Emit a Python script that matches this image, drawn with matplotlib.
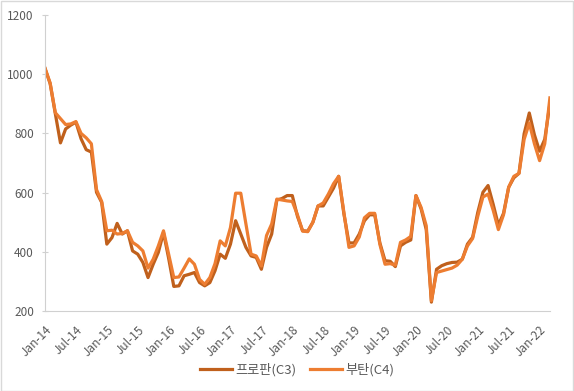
import matplotlib.pyplot as plt
from matplotlib.patches import Rectangle
import pandas as pd

plt.rcParams['font.family'] = ['Noto Sans CJK KR', 'DejaVu Sans']

# 월별 데이터 (2014년 1월 ~ 2022년 3월)
months = pd.date_range('2014-01-01', '2022-03-01', freq='MS').strftime('%b-%y').tolist()

propane = [1020, 968, 867, 768, 815, 828, 838, 782, 745, 737, 601, 567,
           426, 448, 496, 460, 471, 403, 392, 364, 313, 358, 398, 465,
           378, 283, 285, 319, 324, 330, 296, 285, 296, 336, 392, 378,
           426, 505, 460, 415, 386, 381, 341, 415, 460, 575, 580, 590,
           590, 520, 471, 470, 500, 555, 555, 585, 615, 655, 530, 430,
           430, 460, 505, 525, 525, 430, 370, 368, 350, 420, 432, 440,
           590, 545, 475, 230, 341, 353, 360, 364, 365, 375, 426, 449,
           533, 601, 624, 560, 490, 530, 618, 650, 665, 799, 869, 795,
           740, 780, 900]
butane = [1020, 970, 870, 850, 830, 832, 840, 800, 785, 765, 610, 570,
          471, 473, 460, 462, 471, 432, 420, 403, 345, 375, 420, 471,
          392, 313, 315, 345, 376, 358, 307, 290, 313, 360, 437, 420,
          482, 598, 598, 494, 392, 386, 352, 455, 494, 578, 575, 572,
          570, 525, 470, 468, 500, 555, 565, 595, 630, 655, 535, 415,
          420, 450, 515, 530, 530, 425, 358, 360, 355, 432, 440, 452,
          590, 550, 488, 235, 330, 335, 340, 345, 355, 375, 420, 445,
          520, 585, 595, 540, 475, 525, 618, 655, 665, 780, 835, 765,
          708, 765, 920]

tick_pos = list(range(0, 97, 6))
tick_labels = ['Jan-14', 'Jul-14', 'Jan-15', 'Jul-15', 'Jan-16', 'Jul-16',
               'Jan-17', 'Jul-17', 'Jan-18', 'Jul-18', 'Jan-19', 'Jul-19',
               'Jan-20', 'Jul-20', 'Jan-21', 'Jul-21', 'Jan-22']

fig = plt.figure(figsize=(5.74, 3.91), dpi=100)
ax = fig.add_axes([0.0784, 0.2046, 0.8796, 0.757])

x = range(len(months))
ax.plot(x, propane, color='#c0601c', lw=2.3, label='프로판(C3)', solid_joinstyle='round')
ax.plot(x, butane, color='#ed7d31', lw=2.3, label='부탄(C4)', solid_joinstyle='round')

ax.set_xlim(0, len(months) - 1)
ax.set_ylim(200, 1200)
ax.set_yticks(range(200, 1201, 200))

ax.set_xticks(tick_pos)
ax.set_xticklabels(tick_labels, rotation=45, ha='right', rotation_mode='anchor')

# 축 스타일
for side in ['top', 'right']:
    ax.spines[side].set_visible(False)
for side in ['left', 'bottom']:
    ax.spines[side].set_color('#d0d0d0')
ax.tick_params(axis='y', colors='#d0d0d0', labelcolor='#595959', labelsize=8.5, length=4, direction='inout', pad=6)
ax.tick_params(axis='x', labelcolor='#595959', labelsize=8.5, length=0, pad=9)

ax.legend(loc='center', bbox_to_anchor=(0.5, -0.2), ncol=2, frameon=False,
          fontsize=9.5, handlelength=2.4, columnspacing=1.0, handletextpad=0.3,
          labelcolor='#595959')

# 차트 테두리
fig.patches.append(Rectangle((0.001, 0.001), 0.997, 0.997, transform=fig.transFigure,
                             fill=False, edgecolor='#d9d9d9', lw=1))

plt.savefig('out.png', dpi=100)
